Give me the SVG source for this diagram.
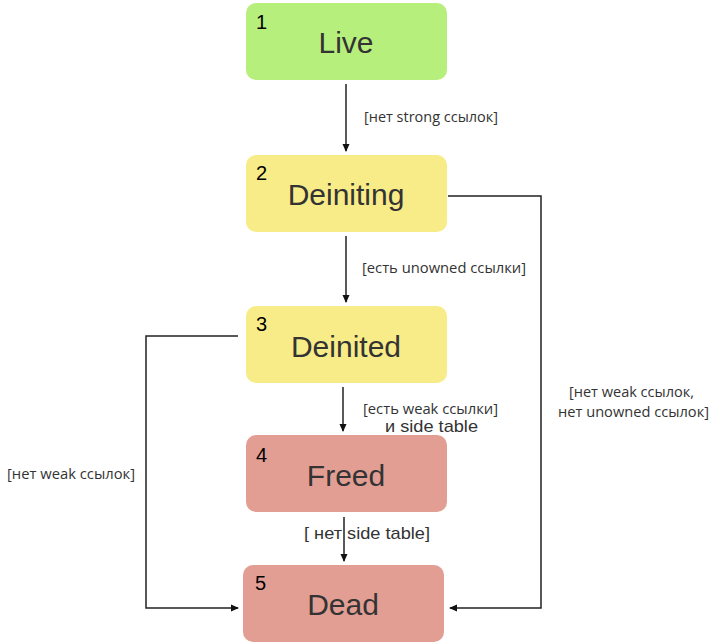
<svg xmlns="http://www.w3.org/2000/svg" width="714" height="642" viewBox="0 0 714 642">
<defs>
<marker id="ah" markerWidth="8" markerHeight="8" refX="7" refY="4" orient="auto" markerUnits="userSpaceOnUse">
<path d="M0,0.5 L8,4 L0,7.5 Z" fill="#111"/>
</marker>
<style>
.box{stroke:none}
.title{font-family:"Liberation Sans",Arial,sans-serif;font-size:30px;fill:#333;text-anchor:middle}
.num{font-family:"Liberation Sans",Arial,sans-serif;font-size:20px;fill:#000}
.lbl{font-family:"Open Sans","Noto Sans",sans-serif;font-size:14px;fill:#333}
.lbl2{font-family:"Liberation Sans",Arial,sans-serif;font-size:17px;fill:#333}
.edge{fill:none;stroke:#222;stroke-width:1.5;marker-end:url(#ah)}
</style>
</defs>
<rect width="714" height="642" fill="#fff"/>
<g id="n1">
<rect class="box" x="246" y="3" width="201" height="77" rx="10" fill="#b7ef7d"/>
<text class="num" x="256" y="29">1</text>
<text class="title" x="346" y="53">Live</text>
</g>
<g id="n2">
<rect class="box" x="246" y="155" width="201" height="77" rx="10" fill="#f8ec88"/>
<text class="num" x="256" y="180">2</text>
<text class="title" x="346" y="205">Deiniting</text>
</g>
<g id="n3">
<rect class="box" x="246" y="306" width="201" height="77" rx="10" fill="#f8ec88"/>
<text class="num" x="256" y="331">3</text>
<text class="title" x="346" y="357">Deinited</text>
</g>
<g id="n4">
<rect class="box" x="246" y="435" width="201" height="77" rx="10" fill="#e39e94"/>
<text class="num" x="256" y="462">4</text>
<text class="title" x="346" y="486">Freed</text>
</g>
<g id="n5">
<rect class="box" x="243" y="565" width="201" height="77" rx="10" fill="#e39e94"/>
<text class="num" x="255" y="590">5</text>
<text class="title" x="343" y="615">Dead</text>
</g>
<g id="edges">
<line class="edge" x1="346" y1="84" x2="346" y2="151"/>
<line class="edge" x1="346" y1="236" x2="346" y2="302"/>
<line class="edge" x1="343" y1="387" x2="343" y2="431"/>
<line class="edge" x1="344" y1="517" x2="344" y2="561"/>
<polyline class="edge" points="448,196 541,196 541,608 450,608"/>
<polyline class="edge" points="238,336 146,336 146,608 238,608"/>
</g>
<g id="labels">
<text class="lbl" x="364" y="122" textLength="134" lengthAdjust="spacingAndGlyphs">[нет strong ссылок]</text>
<text class="lbl" x="362" y="273" textLength="164" lengthAdjust="spacingAndGlyphs">[есть unowned ссылки]</text>
<text class="lbl" x="363" y="414" textLength="135" lengthAdjust="spacingAndGlyphs">[есть weak ссылки]</text>
<text class="lbl2" x="385" y="432" textLength="93" lengthAdjust="spacingAndGlyphs">и side table</text>
<text class="lbl2" x="304" y="539" textLength="126" lengthAdjust="spacingAndGlyphs">[ нет side table]</text>
<text class="lbl" x="569" y="397" textLength="125" lengthAdjust="spacingAndGlyphs">[нет weak ссылок,</text>
<text class="lbl" x="558" y="417" textLength="151" lengthAdjust="spacingAndGlyphs">нет unowned ссылок]</text>
<text class="lbl" x="7" y="479" textLength="128" lengthAdjust="spacingAndGlyphs">[нет weak ссылок]</text>
</g>
</svg>
